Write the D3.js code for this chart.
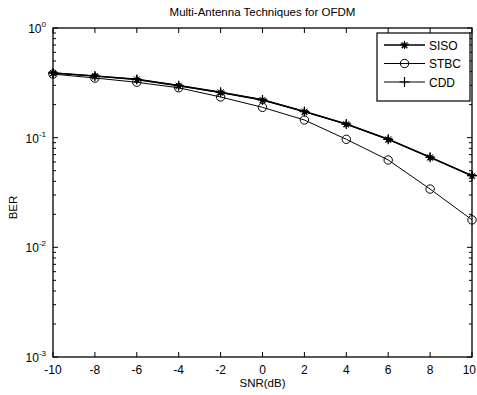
<!DOCTYPE html>
<html>
<head>
<meta charset="utf-8">
<script src="https://cdn.jsdelivr.net/npm/d3@7"></script>
<style>
body{margin:0;background:#fff}
svg{display:block;font-family:"Liberation Sans",Arial,sans-serif}
</style>
</head>
<body>
<svg width="477" height="395"></svg>
<script>
const snr = [-10,-8,-6,-4,-2,0,2,4,6,8,10]
const siso = [0.389,0.365,0.34,0.298,0.259,0.221,0.173,0.133,0.0966,0.0663,0.045]
const stbc = [0.38,0.35,0.32,0.285,0.235,0.189,0.145,0.0966,0.0626,0.034,0.0178]
const cdd = [0.389,0.365,0.34,0.298,0.259,0.221,0.173,0.133,0.0966,0.0663,0.045]
const xticks = [-10,-8,-6,-4,-2,0,2,4,6,8,10]
const yexps = [0,-1,-2,-3]
const series = [
  {name:'SISO',values:siso,marker:'star',width:1.6},
  {name:'STBC',values:stbc,marker:'circle',width:1},
  {name:'CDD',values:cdd,marker:'plus',width:1.2}
]

const svg = d3.select('svg')
const L = 53, R = 472, T = 28, B = 357

const x = d3.scaleLinear().domain([-10,10]).range([L,R])
const y = d3.scaleLog().domain([1e-3,1]).range([B,T])

/* axes box */
const $axes = svg.append('g')
$axes.append('rect')
  .attr('x',L).attr('y',T).attr('width',R-L).attr('height',B-T)
  .attr('fill','none').attr('stroke','#000').attr('stroke-width',1.3)

// x ticks bottom + top, inward
xticks.forEach((t,i) => {
  $axes.append('line').attr('x1',x(t)).attr('x2',x(t)).attr('y1',B).attr('y2',B-5).attr('stroke','#000')
  $axes.append('line').attr('x1',x(t)).attr('x2',x(t)).attr('y1',T).attr('y2',T+5).attr('stroke','#000')
  const last = i == xticks.length-1
  $axes.append('text')
    .attr('x',last ? 476 : x(t)).attr('y',B+17)
    .attr('text-anchor',last ? 'end' : 'middle').attr('font-size',12)
    .text(t)
})

// y ticks, major + minor
const minors = []
for(let e=-3;e<0;e++) for(let m=2;m<=9;m++) minors.push(m*Math.pow(10,e))
minors.forEach(v => {
  $axes.append('line').attr('x1',L).attr('x2',L+3).attr('y1',y(v)).attr('y2',y(v)).attr('stroke','#000')
  $axes.append('line').attr('x1',R).attr('x2',R-3).attr('y1',y(v)).attr('y2',y(v)).attr('stroke','#000')
})
yexps.forEach(e => {
  const v = Math.pow(10,e)
  $axes.append('line').attr('x1',L).attr('x2',L+5).attr('y1',y(v)).attr('y2',y(v)).attr('stroke','#000')
  $axes.append('line').attr('x1',R).attr('x2',R-5).attr('y1',y(v)).attr('y2',y(v)).attr('stroke','#000')
  const t = $axes.append('text')
    .attr('x',L-7).attr('y',y(v)+5)
    .attr('text-anchor','end').attr('font-size',12)
  t.append('tspan').text('10')
  t.append('tspan').attr('dy',-6).attr('font-size',8).text(e)
})

/* labels */
svg.append('text').attr('x',(L+R)/2).attr('y',16)
  .attr('text-anchor','middle').attr('font-size',11.5)
  .text('Multi-Antenna Techniques for OFDM')
svg.append('text').attr('x',(L+R)/2).attr('y',387)
  .attr('text-anchor','middle').attr('font-size',11.5)
  .text('SNR(dB)')
svg.append('text')
  .attr('transform',`translate(17,${(T+B)/2+15}) rotate(-90)`)
  .attr('text-anchor','middle').attr('font-size',11.5)
  .text('BER')

/* markers */
function drawMarker(g,type,cx,cy){
  if(type=='circle'){
    g.append('circle').attr('cx',cx).attr('cy',cy).attr('r',4.2)
      .attr('fill','none').attr('stroke','#000').attr('stroke-width',1)
  } else if(type=='plus'){
    g.append('path').attr('d',`M${cx-5},${cy}H${cx+5}M${cx},${cy-5}V${cy+5}`)
      .attr('stroke','#000').attr('stroke-width',1.2)
  } else {
    g.append('path').attr('d',d3.symbol(d3.symbolStar,26)())
      .attr('transform',`translate(${cx},${cy})`).attr('fill','#000')
    g.append('path').attr('d',`M${cx-4},${cy}H${cx+4}M${cx},${cy-4}V${cy+4}M${cx-3},${cy-3}L${cx+3},${cy+3}M${cx-3},${cy+3}L${cx+3},${cy-3}`)
      .attr('stroke','#000').attr('stroke-width',1)
  }
}

const line = d3.line().x((d,i) => x(snr[i])).y(d => y(d))
const $lines = svg.append('g')
series.slice().reverse().forEach(s => {
  $lines.append('path').datum(s.values).attr('d',line)
    .attr('fill','none').attr('stroke','#000').attr('stroke-width',s.width)
  const g = $lines.append('g')
  s.values.forEach((v,i) => drawMarker(g,s.marker,x(snr[i]),y(v)))
})

/* legend */
const lx = 377, ly = 33, lw = 93, lh = 68
const $legend = svg.append('g')
$legend.append('rect').attr('x',lx).attr('y',ly).attr('width',lw).attr('height',lh)
  .attr('fill','#fff').attr('stroke','#000').attr('stroke-width',1.2)
series.forEach((s,i) => {
  const yy = ly + 12 + i*18.5
  $legend.append('line').attr('x1',lx+7).attr('x2',lx+48).attr('y1',yy).attr('y2',yy)
    .attr('stroke','#000').attr('stroke-width',s.width)
  drawMarker($legend,s.marker,lx+27.5,yy)
  $legend.append('text').attr('x',lx+52).attr('y',yy+4.5)
    .attr('font-size',12).text(s.name)
})
</script>
</body>
</html>
